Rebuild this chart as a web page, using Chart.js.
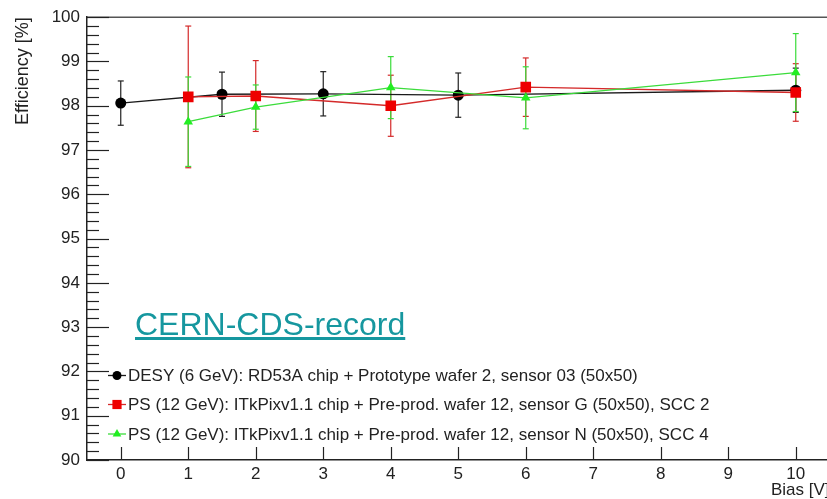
<!DOCTYPE html>
<html>
<head>
<meta charset="utf-8">
<script src="https://cdn.jsdelivr.net/npm/chart.js@4.4.1/dist/chart.umd.min.js"></script>
<style>
    html, body { margin: 0; padding: 0; background: #fff; overflow: hidden; }
    #wrap { position: relative; width: 827px; height: 499px; overflow: hidden; }
    #myChart { display: block; }
    #cds {
        position: absolute; left: 135px; top: 308px;
        font: 32px "Liberation Sans", Arial, sans-serif; line-height: 1;
        color: #16979f; text-decoration: underline; white-space: nowrap;
    }
</style>
</head>
<body>
<div id="wrap">
    <canvas id="myChart" width="837" height="499" style="width:837px;height:499px"></canvas>
    <div id="cds">CERN-CDS-record</div>
</div>
<script>
// DESY (6 GeV), RD53A
const desyBias = [0, 1.5, 3, 5, 10];
const desyEff = [98.06, 98.26, 98.27, 98.24, 98.35];
const desyErr = [0.5, 0.5, 0.5, 0.5, 0.5];

// PS (12 GeV), sensor G, SCC 2
const sccGBias = [1, 2, 4, 6, 10];
const sccGEff = [98.2, 98.22, 98.0, 98.42, 98.3];
const sccGErr = [1.6, 0.8, 0.69, 0.66, 0.65];

// PS (12 GeV), sensor N, SCC 4
const sccNBias = [1, 2, 4, 6, 10];
const sccNEff = [97.64, 97.97, 98.41, 98.18, 98.75];
const sccNErr = [1.01, 0.5, 0.7, 0.7, 0.88];

const seriesLabels = [
    'DESY (6 GeV): RD53A chip + Prototype wafer 2, sensor 03 (50x50)',
    'PS (12 GeV): ITkPixv1.1 chip + Pre-prod. wafer 12, sensor G (50x50), SCC 2',
    'PS (12 GeV): ITkPixv1.1 chip + Pre-prod. wafer 12, sensor N (50x50), SCC 4'
];
const xTickValues = [0, 1, 2, 3, 4, 5, 6, 7, 8, 9, 10];

const FONT = '"Liberation Sans", Arial, sans-serif';

function points(xs, ys) {
    return xs.map((x, i) => ({x: x, y: ys[i]}));
}

function line(ctx, x1, y1, x2, y2) {
    ctx.beginPath();
    ctx.moveTo(x1, y1);
    ctx.lineTo(x2, y2);
    ctx.stroke();
}

// vertical error bars with small caps
const errorBars = {
    id: 'errorBars',
    beforeDatasetsDraw(chart) {
        const {ctx, scales: {x, y}} = chart;
        chart.data.datasets.forEach(ds => {
            ctx.save();
            ctx.strokeStyle = ds.errorColor;
            ctx.lineWidth = 1.2;
            ds.data.forEach((p, i) => {
                const px = x.getPixelForValue(p.x);
                const top = y.getPixelForValue(p.y + ds.errors[i]);
                const bot = y.getPixelForValue(p.y - ds.errors[i]);
                line(ctx, px, top, px, bot);
                line(ctx, px - 3, top, px + 3, top);
                line(ctx, px - 3, bot, px + 3, bot);
            });
            ctx.restore();
        });
    }
};

// ROOT-like frame: inner ticks and top border
const frameTicks = {
    id: 'frameTicks',
    beforeDatasetsDraw(chart) {
        const {ctx, chartArea: a, scales: {x, y}} = chart;
        ctx.save();
        ctx.strokeStyle = '#555';
        ctx.lineWidth = 1.5;
        line(ctx, a.left, a.top, a.right, a.top);

        ctx.strokeStyle = '#222';
        ctx.lineWidth = 1.2;
        for (let k = 0; k <= 50; k++) {
            const v = y.min + k * 0.2;
            const py = Math.round(y.getPixelForValue(v)) + 0.5;
            const len = k % 5 === 0 ? 22 : 12;
            line(ctx, a.left, py, a.left + len, py);
        }
        xTickValues.forEach(v => {
            const px = Math.round(x.getPixelForValue(v)) + 0.5;
            line(ctx, px, a.bottom, px, a.bottom - 13);
        });
        ctx.restore();
    }
};

// legend drawn inside the frame
const innerLegend = {
    id: 'innerLegend',
    afterDatasetsDraw(chart) {
        const ctx = chart.ctx;
        const rows = [375.5, 404.5, 434];
        ctx.save();
        ctx.font = '17px ' + FONT;
        ctx.textBaseline = 'middle';
        ctx.textAlign = 'left';
        chart.data.datasets.slice().sort((a, b) => b.order - a.order).forEach((ds, i) => {
            const yy = rows[i];
            ctx.strokeStyle = ds.borderColor;
            ctx.lineWidth = 1.3;
            line(ctx, 108, yy, 126, yy);
            ctx.fillStyle = ds.pointBackgroundColor;
            Chart.helpers.drawPoint(ctx, {
                pointStyle: ds.pointStyle,
                radius: ds.legendRadius,
                borderWidth: 0,
                rotation: 0
            }, 117, yy);
            ctx.fillStyle = '#222';
            ctx.fillText(seriesLabels[i], 128, yy + 1);
        });
        ctx.restore();
    }
};

const data = {
    datasets: [{
        label: seriesLabels[0],
        data: points(desyBias, desyEff),
        errors: desyErr,
        errorColor: '#222',
        borderColor: '#1a1a1a',
        borderWidth: 1.3,
        pointStyle: 'circle',
        pointRadius: 5.5,
        legendRadius: 4.5,
        pointBackgroundColor: '#000',
        pointBorderWidth: 0,
        order: 3
    }, {
        label: seriesLabels[1],
        data: points(sccGBias, sccGEff),
        errors: sccGErr,
        errorColor: '#d42a2a',
        borderColor: '#d42a2a',
        borderWidth: 1.3,
        pointStyle: 'rect',
        pointRadius: 7.5,
        legendRadius: 6.5,
        pointBackgroundColor: '#ee0000',
        pointBorderWidth: 0,
        order: 2
    }, {
        label: seriesLabels[2],
        data: points(sccNBias, sccNEff),
        errors: sccNErr,
        errorColor: '#3bdc3b',
        borderColor: '#3bdc3b',
        borderWidth: 1.3,
        pointStyle: 'triangle',
        pointRadius: 5.5,
        legendRadius: 5,
        pointBackgroundColor: '#22ee22',
        pointBorderWidth: 0,
        order: 1
    }]
};

const scales = {
    x: {
        type: 'linear',
        min: -0.5,
        max: 10.5,
        afterBuildTicks: function (scale) {
            scale.ticks = xTickValues.map(v => ({value: v}));
        },
        afterFit: function (scale) {
            scale.height = 39;
        },
        ticks: {
            padding: 4,
            color: '#222',
            maxRotation: 0,
            font: {family: FONT, size: 17}
        },
        grid: {display: false, drawTicks: false},
        border: {display: true, color: '#222', width: 1.5},
        title: {
            display: true,
            text: 'Bias [V]',
            align: 'end',
            color: '#222',
            padding: {top: 0, bottom: -2},
            font: {family: FONT, size: 17}
        }
    },
    y: {
        type: 'linear',
        min: 90,
        max: 100,
        afterFit: function (scale) {
            scale.width = 87;
        },
        ticks: {
            stepSize: 1,
            padding: 7,
            color: '#222',
            font: {family: FONT, size: 17}
        },
        grid: {display: false, drawTicks: false},
        border: {display: true, color: '#222', width: 1.5},
        title: {
            display: true,
            text: 'Efficiency [%]',
            align: 'end',
            color: '#222',
            padding: {top: 12, bottom: 0},
            font: {family: FONT, size: 18}
        }
    }
};

const config = {
    type: 'line',
    data,
    options: {
        responsive: false,
        animation: false,
        layout: {padding: {top: 16, right: 0, left: 0, bottom: 0}},
        elements: {line: {tension: 0}},
        scales: scales,
        plugins: {
            legend: {display: false},
            tooltip: {enabled: false}
        }
    },
    plugins: [frameTicks, errorBars, innerLegend]
};

new Chart(document.getElementById('myChart'), config);
</script>
</body>
</html>
